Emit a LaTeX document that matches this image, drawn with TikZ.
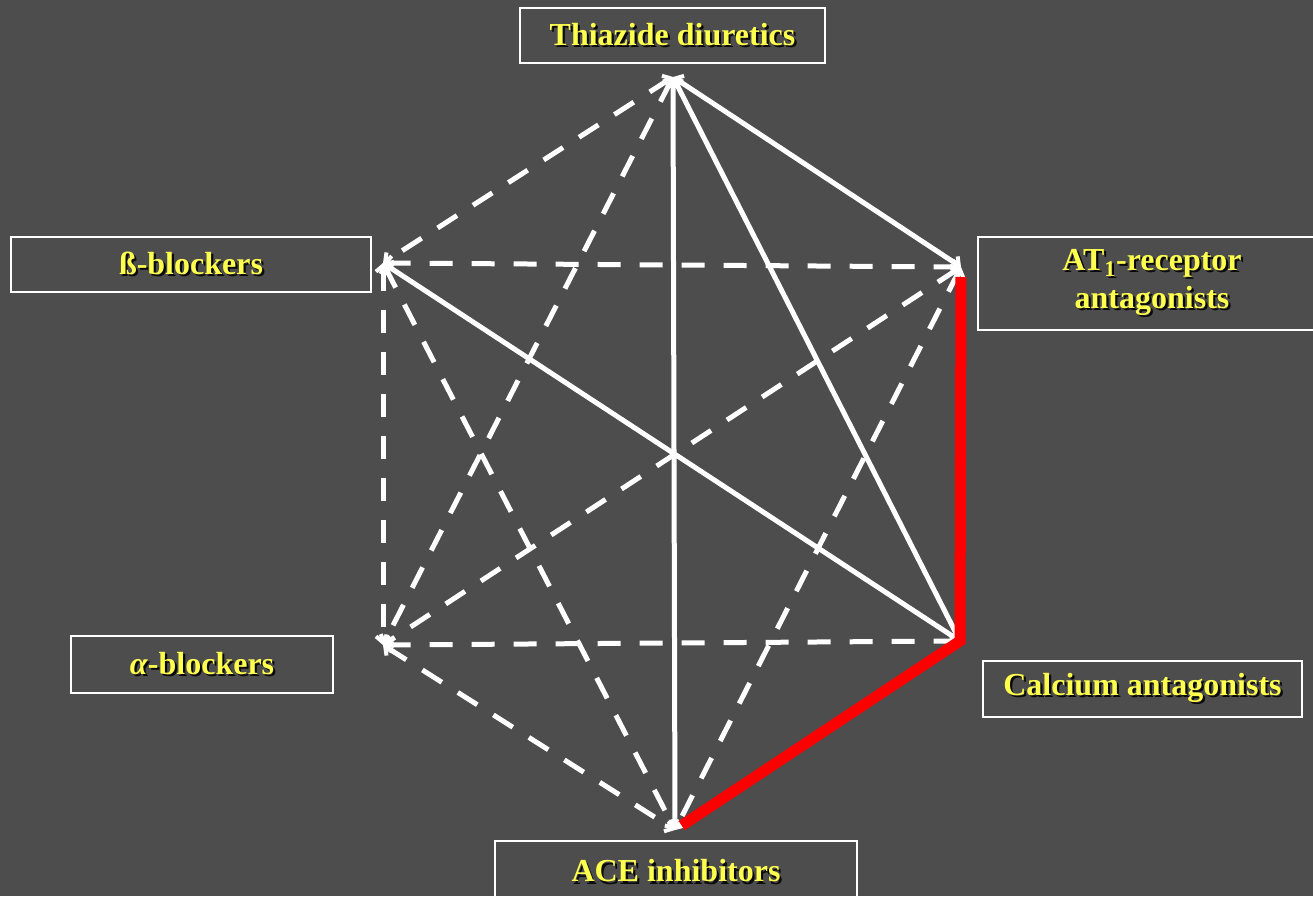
\documentclass[tikz,border=0pt]{standalone}
\usepackage{fontspec}
\setmainfont{Liberation Serif}
\usetikzlibrary{arrows.meta}

\definecolor{bgcol}{RGB}{77,77,77}
\definecolor{labelyellow}{RGB}{255,255,77}
\definecolor{shadowcol}{RGB}{10,10,10}
\definecolor{combored}{RGB}{255,0,0}

% yellow label text with a dark drop shadow
\newcommand\dropshadowtext[1]{\leavevmode\rlap{\hspace{2.2pt}\raisebox{-2.2pt}{\color{shadowcol}#1}}{\color{labelyellow}#1}}

\tikzset{
  drugbox/.style={draw=white, line width=2.6pt, inner sep=0pt, align=center,
    font=\fontsize{32}{35}\selectfont\bfseries},
  link/.style={white, line width=5pt,
    {Straight Barb[length=6pt,width=14pt,line width=4pt]}-{Straight Barb[length=6pt,width=14pt,line width=4pt]}},
  dashlink/.style={link, dash pattern=on 23pt off 19pt},
  redlink/.style={combored, line width=11pt, line join=miter}
}

\begin{document}
\begin{tikzpicture}[x=1pt,y=-1pt]
  \useasboundingbox (0,0) rectangle (1313,896);
  \fill[bgcol] (0,0) rectangle (1313,896);
  \clip (0,0) rectangle (1313,896);

  % drug classes
  \node[drugbox, minimum width=305pt, minimum height=55pt] (thiazide) at (672.5,35.5)
    {\dropshadowtext{Thiazide diuretics}};
  \node[drugbox, minimum width=360pt, minimum height=55pt] (beta) at (191,264.5)
    {\dropshadowtext{ß-blockers}};
  \node[drugbox, minimum width=348pt, minimum height=93pt] (at1) at (1152,283.5)
    {\dropshadowtext{AT\textsubscript{1}-receptor}\\[3pt]\dropshadowtext{antagonists}};
  \node[drugbox, minimum width=262pt, minimum height=57pt] (alpha) at (202,664.5)
    {\dropshadowtext{\textit{α}-blockers}};
  \node[drugbox, minimum width=319pt, minimum height=56pt] (calcium) at (1142.5,689)
    {\dropshadowtext{Calcium antagonists}};
  \node[drugbox, minimum width=362pt, minimum height=62pt] (ace) at (676,872)
    {\dropshadowtext{ACE inhibitors}};

  % corners of the hexagon
  \coordinate (vT)  at (673,77);
  \coordinate (vUR) at (961,267);
  \coordinate (vLR) at (960,641);
  \coordinate (vB)  at (675,830);
  \coordinate (vLL) at (383,645);
  \coordinate (vUL) at (383,263);

  % less preferred combinations
  \draw[dashlink] (vT) -- (vUL);
  \draw[dashlink] (vT) -- (vLL);
  \draw[dashlink] (vUL) -- (vUR);
  \draw[dashlink] (vUL) -- (vLL);
  \draw[dashlink] (vUL) -- (vB);
  \draw[dashlink] (vUR) -- (vLL);
  \draw[dashlink] (vUR) -- (vB);
  \draw[dashlink] (vLL) -- (vLR);
  \draw[dashlink] (vLL) -- (vB);

  % possible combinations
  \draw[link] (vT) -- (vUR);
  \draw[link] (vT) -- (vB);
  \draw[link] (vT) -- (vLR);
  \draw[link] (vUL) -- (vLR);

  % preferred combinations
  \draw[redlink, shorten <=10pt, shorten >=8pt] (vUR) -- (vLR) -- (vB);
\end{tikzpicture}
\end{document}
